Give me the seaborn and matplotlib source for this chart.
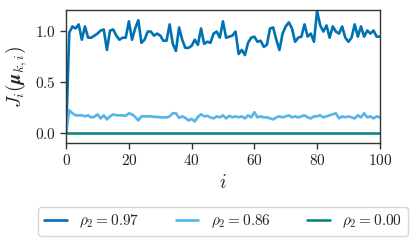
import numpy as np
import pandas as pd
import seaborn as sns
import matplotlib
matplotlib.use("Agg")
import matplotlib.pyplot as plt

iters = list(range(101))

rho_097 = [0.00, 0.98, 1.04, 1.02, 1.06, 0.91, 1.04, 0.93, 0.93, 0.95,
           0.97, 1.00, 1.01, 0.81, 1.00, 1.01, 0.95, 0.91, 0.93, 0.93,
           1.09, 0.91, 1.02, 1.10, 0.88, 0.91, 0.99, 0.99, 0.95, 0.97,
           0.95, 0.90, 0.90, 1.06, 0.87, 0.80, 1.03, 0.91, 0.83, 0.83,
           0.85, 0.91, 0.86, 1.02, 0.87, 0.89, 0.88, 0.97, 0.99, 0.93,
           1.09, 0.93, 0.94, 0.95, 0.99, 0.77, 0.81, 0.76, 0.88, 0.93,
           0.94, 0.89, 0.90, 0.84, 0.86, 1.02, 1.03, 0.91, 0.81, 0.97,
           1.04, 1.08, 1.02, 0.89, 0.93, 0.94, 1.06, 0.94, 0.97, 0.89,
           1.19, 1.05, 0.99, 1.05, 0.93, 1.04, 0.99, 0.97, 1.04, 0.93,
           0.89, 0.93, 1.06, 0.94, 1.04, 0.94, 1.00, 0.97, 1.00, 0.94,
           0.94]

rho_086 = [0.00, 0.22, 0.19, 0.17, 0.17, 0.17, 0.16, 0.17, 0.15, 0.155,
           0.18, 0.14, 0.17, 0.13, 0.16, 0.18, 0.17, 0.17, 0.17, 0.165,
           0.19, 0.18, 0.155, 0.12, 0.16, 0.16, 0.16, 0.16, 0.155, 0.155,
           0.15, 0.15, 0.15, 0.16, 0.19, 0.19, 0.145, 0.16, 0.145, 0.12,
           0.135, 0.11, 0.155, 0.18, 0.16, 0.165, 0.15, 0.14, 0.16, 0.15,
           0.17, 0.14, 0.165, 0.15, 0.16, 0.15, 0.16, 0.14, 0.17, 0.15,
           0.20, 0.15, 0.16, 0.15, 0.15, 0.14, 0.13, 0.15, 0.16, 0.15,
           0.16, 0.17, 0.15, 0.16, 0.15, 0.16, 0.17, 0.15, 0.14, 0.16,
           0.16, 0.17, 0.15, 0.16, 0.17, 0.18, 0.19, 0.14, 0.16, 0.15,
           0.16, 0.15, 0.14, 0.17, 0.15, 0.19, 0.15, 0.16, 0.14, 0.16,
           0.15]

rho_000 = [0.0] * 101

labels = [r"$\rho_2 = 0.97$", r"$\rho_2 = 0.86$", r"$\rho_2 = 0.00$"]
colors = ["#0072B2", "#56B4E9", "#118585"]

df = pd.DataFrame({
    "i": iters * 3,
    "J": rho_097 + rho_086 + rho_000,
    "series": [labels[0]] * 101 + [labels[1]] * 101 + [labels[2]] * 101,
})

sns.set_theme(style="ticks")
plt.rcParams["font.family"] = "serif"
plt.rcParams["font.serif"] = ["cmr10", "DejaVu Serif"]
plt.rcParams["mathtext.fontset"] = "cm"
plt.rcParams["axes.formatter.use_mathtext"] = True
plt.rcParams["axes.unicode_minus"] = False

fig = plt.figure(figsize=(4.16, 2.46), dpi=100)
ax = fig.add_axes([0.159, 0.419, 0.754, 0.54])

sns.lineplot(data=df, x="i", y="J", hue="series", palette=colors,
             hue_order=labels, linewidth=1.9, ax=ax, legend=True)

ax.set_xlim(0, 100)
ax.set_ylim(-0.1, 1.2)
ax.set_xticks([0, 20, 40, 60, 80, 100])
ax.set_yticks([0.0, 0.5, 1.0])
ax.set_xticklabels(["$0$", "$20$", "$40$", "$60$", "$80$", "$100$"], fontsize=11)
ax.set_yticklabels(["$0.0$", "$0.5$", "$1.0$"], fontsize=11)
ax.set_xlabel(r"$i$", fontsize=14)
ax.set_ylabel(r"$J_i(\boldsymbol{\mu}_{k,i})$", fontsize=14)
for s in ax.spines.values():
    s.set_color("#333333")
    s.set_linewidth(1.0)
ax.tick_params(length=4, width=1.0, color="#333333", labelcolor="#222222")

handles, lbls = ax.get_legend_handles_labels()
ax.get_legend().remove()
leg = fig.legend(handles, lbls, loc="center", bbox_to_anchor=(0.536, 0.10),
                 ncol=3, fontsize=11, frameon=True, handlelength=1.5,
                 columnspacing=2.35, borderpad=0.4)
leg.get_frame().set_edgecolor("#cccccc")

fig.savefig("out.png", dpi=100)
